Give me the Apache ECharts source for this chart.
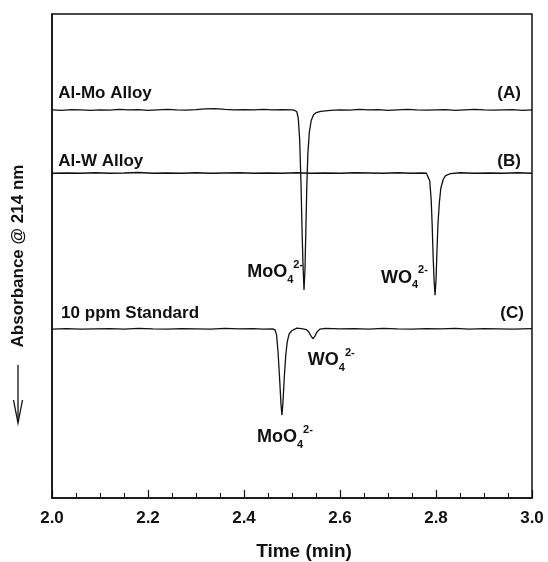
<!DOCTYPE html>
<html>
<head>
<meta charset="utf-8">
<script src="https://cdn.jsdelivr.net/npm/echarts@6/dist/echarts.min.js"></script>
<style>
  html, body { margin: 0; padding: 0; background: #fff; }
  #chart { width: 548px; height: 562px; }
</style>
</head>
<body>
<div id="chart"></div>
<script>
// (A) Al-Mo alloy
var timeA = [2.00, 2.02, 2.04, 2.06, 2.08, 2.10, 2.12, 2.14, 2.16, 2.18, 2.20, 2.22, 2.24, 2.26, 2.28, 2.30,
  2.32, 2.34, 2.36, 2.38, 2.40, 2.42, 2.44, 2.46, 2.48, 2.50, 2.505, 2.510, 2.513, 2.516, 2.519, 2.521,
  2.523, 2.525, 2.527, 2.529, 2.531, 2.533, 2.536, 2.540, 2.545, 2.55, 2.56, 2.58, 2.60, 2.62, 2.64, 2.66,
  2.68, 2.70, 2.72, 2.74, 2.76, 2.78, 2.80, 2.82, 2.84, 2.86, 2.88, 2.90, 2.92, 2.94, 2.96, 2.98, 3.00];
var absA = [80.2, 80.1, 80.25, 80.2, 80.1, 80.2, 80.15, 80.3, 80.2, 80.25, 80.1, 80.2, 80.3, 80.2, 80.15, 80.25,
  80.4, 80.45, 80.3, 80.2, 80.25, 80.2, 80.3, 80.2, 80.25, 80.2, 80.1, 79.8, 78.5, 74, 64, 55,
  48, 43, 47, 56, 65, 71, 75.5, 78, 79.2, 79.6, 79.9, 80.1, 80.2, 80.15, 80.3, 80.2,
  80.25, 80.1, 80.2, 80.3, 80.2, 80.15, 80.2, 80.25, 80.1, 80.2, 80.3, 80.2, 80.15, 80.2, 80.25, 80.1, 80.2];

// (B) Al-W alloy
var timeB = [2.00, 2.03, 2.06, 2.09, 2.12, 2.15, 2.18, 2.21, 2.24, 2.27, 2.30, 2.33, 2.36, 2.39, 2.42, 2.45,
  2.48, 2.51, 2.54, 2.57, 2.60, 2.63, 2.66, 2.69, 2.72, 2.75, 2.77, 2.780, 2.784, 2.787, 2.790, 2.792,
  2.794, 2.796, 2.798, 2.800, 2.802, 2.804, 2.807, 2.810, 2.815, 2.820, 2.830, 2.85, 2.88, 2.91, 2.94, 2.97, 3.00];
var absB = [67.1, 67.15, 67.1, 67.2, 67.1, 67.15, 67.25, 67.1, 67.15, 67.1, 67.2, 67.1, 67.15, 67.2, 67.1, 67.15,
  67.1, 67.2, 67.1, 67.15, 67.1, 67.2, 67.15, 67.1, 67.2, 67.1, 67.15, 67.1, 66.8, 65.5, 61.5, 56.5,
  50, 45, 41.9, 45, 51, 56.5, 61, 64, 65.8, 66.6, 67.0, 67.2, 67.1, 67.15, 67.1, 67.2, 67.1];

// (C) 10 ppm standard
var timeC = [2.00, 2.03, 2.06, 2.09, 2.12, 2.15, 2.18, 2.21, 2.24, 2.27, 2.30, 2.33, 2.36, 2.39, 2.42, 2.44,
  2.46, 2.465, 2.468, 2.471, 2.474, 2.477, 2.479, 2.481, 2.484, 2.487, 2.490, 2.494, 2.500, 2.510, 2.520, 2.530,
  2.535, 2.540, 2.544, 2.548, 2.552, 2.558, 2.570, 2.60, 2.63, 2.66, 2.69, 2.72, 2.75, 2.78, 2.81, 2.84,
  2.87, 2.90, 2.93, 2.96, 3.00];
var absC = [34.9, 35.0, 34.9, 34.95, 35.0, 34.9, 35.05, 34.95, 34.9, 35.0, 34.95, 34.9, 35.05, 34.95, 35.0, 34.9,
  34.95, 34.7, 33.6, 30, 25, 19.5, 17.1, 19.5, 25, 29.5, 32.2, 33.9, 34.6, 35.1, 35.0, 34.8,
  34.3, 33.4, 32.9, 33.5, 34.3, 34.9, 35.05, 34.95, 35.0, 34.9, 35.05, 34.95, 34.9, 35.0, 34.95, 35.05,
  34.9, 35.0, 34.95, 34.9, 35.0];

var traceNames = ['Al-Mo Alloy', 'Al-W Alloy', '10 ppm Standard'];
var traceTags = ['(A)', '(B)', '(C)'];
var xTickLabels = ['2.0', '2.2', '2.4', '2.6', '2.8', '3.0'];

var FONT = '"Liberation Sans", Arial, sans-serif';
var INK = '#111';

function pairs(t, v) {
  return t.map(function (x, i) { return [x, v[i]]; });
}

function trace(name, t, v) {
  return {
    name: name,
    type: 'line',
    data: pairs(t, v),
    showSymbol: false,
    lineStyle: { color: INK, width: 1.3 },
    animation: false
  };
}

var chart = echarts.init(document.getElementById('chart'));
var option = {
  backgroundColor: '#fff',
  animation: false,
  grid: {
    left: 52, right: 16, top: 14, bottom: 64,
    show: true, borderColor: INK, borderWidth: 1.5
  },
  xAxis: {
    type: 'value',
    min: 2, max: 3, interval: 0.2,
    axisLine: { show: true, lineStyle: { color: INK, width: 1.5 } },
    axisTick: { show: true, inside: true, length: 8, lineStyle: { color: INK, width: 1.2 } },
    minorTick: { show: true, splitNumber: 4, length: 5, lineStyle: { color: INK, width: 1 } },
    splitLine: { show: false },
    axisLabel: {
      margin: 12, fontSize: 17, fontWeight: 'bold', fontFamily: FONT, color: INK,
      formatter: function (val) { return xTickLabels[Math.round((val - 2) / 0.2)]; }
    }
  },
  yAxis: {
    type: 'value',
    min: 0, max: 100,
    axisLine: { show: true, lineStyle: { color: INK, width: 1.5 } },
    axisTick: { show: false },
    axisLabel: { show: false },
    splitLine: { show: false }
  },
  series: [
    trace(traceNames[0], timeA, absA),
    trace(traceNames[1], timeB, absB),
    trace(traceNames[2], timeC, absC)
  ]
};
chart.setOption(option);

function px(t, v) { return chart.convertToPixel({ gridIndex: 0 }, [t, v]); }

function fontStr(size) { return 'bold ' + size + 'px ' + FONT; }

var richIon = {
  m: { font: fontStr(18), lineHeight: 26, verticalAlign: 'middle', fill: INK },
  s: { font: fontStr(11), lineHeight: 11, verticalAlign: 'bottom', fill: INK },
  p: { font: fontStr(11), lineHeight: 11, verticalAlign: 'top', fill: INK }
};

function plainText(t, v, text, align) {
  var p = px(t, v);
  return {
    type: 'text', silent: true,
    style: {
      x: p[0], y: p[1], text: text, align: align, verticalAlign: 'middle',
      font: fontStr(17), fill: INK
    }
  };
}

function ionText(t, v, ion, align) {
  var p = px(t, v);
  return {
    type: 'text', silent: true,
    style: {
      x: p[0], y: p[1], align: align, verticalAlign: 'middle', font: fontStr(18),
      text: '{m|' + ion + '}{s|4}{p|2-}', rich: richIon
    }
  };
}

var graphics = [
  plainText(2.013, 83.7, traceNames[0], 'left'),
  plainText(2.977, 83.7, traceTags[0], 'right'),
  plainText(2.013, 69.6, traceNames[1], 'left'),
  plainText(2.977, 69.6, traceTags[1], 'right'),
  plainText(2.019, 38.2, traceNames[2], 'left'),
  plainText(2.983, 38.2, traceTags[2], 'right'),
  ionText(2.523, 46.7, 'MoO', 'right'),
  ionText(2.783, 45.5, 'WO', 'right'),
  ionText(2.533, 28.5, 'WO', 'left'),
  ionText(2.427, 12.6, 'MoO', 'left'),
  // x axis title
  {
    type: 'text', silent: true,
    style: { x: 304, y: 552, text: 'Time (min)', align: 'center', verticalAlign: 'middle',
      font: fontStr(19), fill: INK }
  },
  // y axis title, rotated
  {
    type: 'text', silent: true, x: 18, y: 256, rotation: Math.PI / 2,
    style: { x: 0, y: 0, text: 'Absorbance @ 214 nm', align: 'center', verticalAlign: 'middle',
      font: fontStr(17), fill: INK }
  },
  // downward arrow
  { type: 'line', silent: true, shape: { x1: 18, y1: 365, x2: 18, y2: 422 },
    style: { stroke: INK, lineWidth: 1.3 } },
  { type: 'polyline', silent: true, shape: { points: [[13.5, 400], [18, 423], [22.5, 400]] },
    style: { stroke: INK, fill: null, lineWidth: 1.3 } }
];

chart.setOption({ graphic: graphics });
</script>
</body>
</html>
